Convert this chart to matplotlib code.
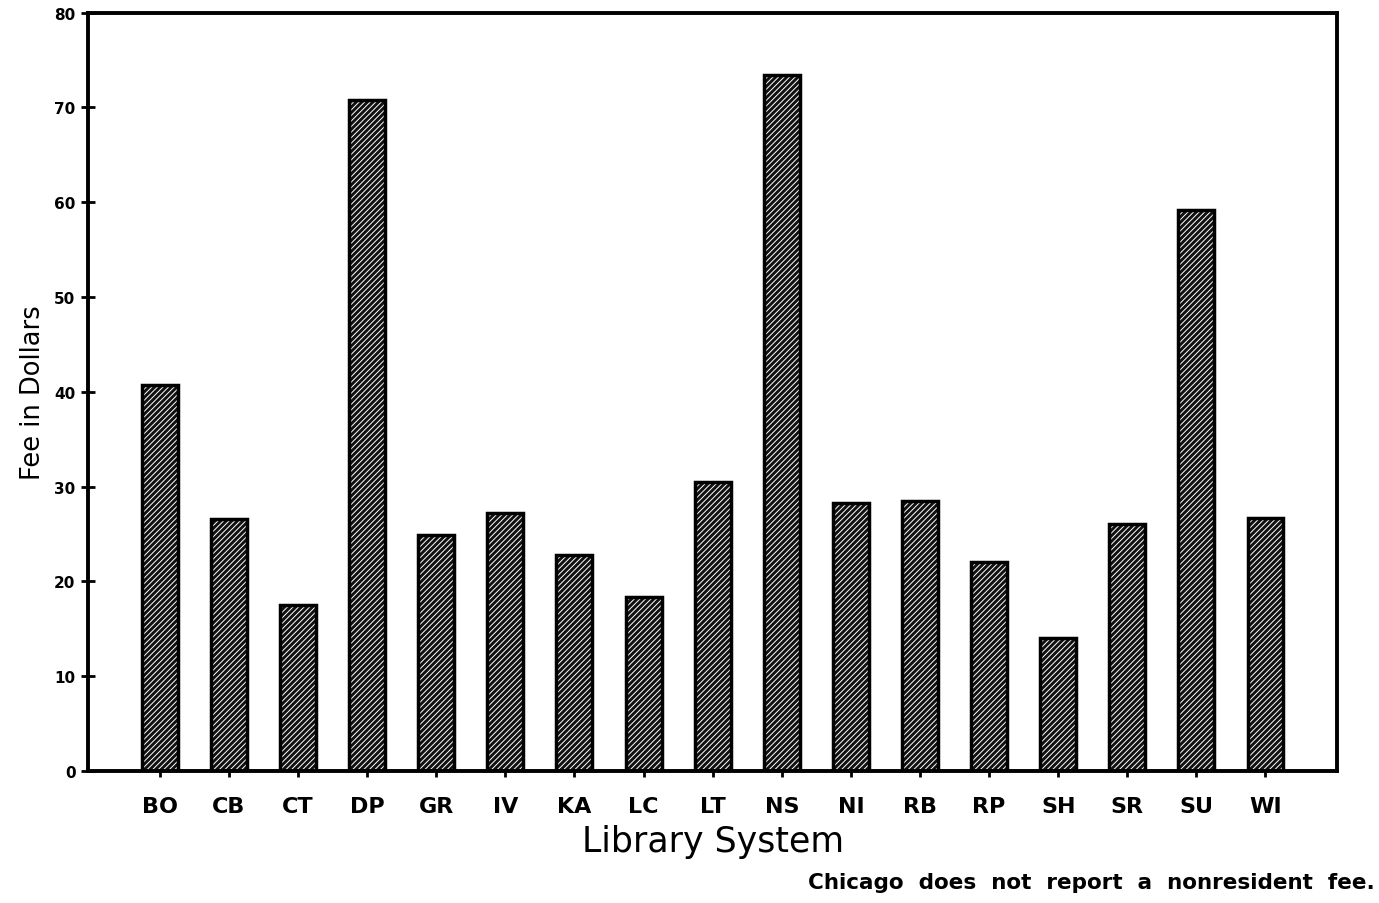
import numpy as np
import matplotlib.pyplot as plt

# nonresident fee by library system
systems = ["BO", "CB", "CT", "DP", "GR", "IV", "KA", "LC", "LT",
           "NS", "NI", "RB", "RP", "SH", "SR", "SU", "WI"]
fees = [40.7, 26.6, 17.5, 70.8, 24.9, 27.2, 22.8, 18.4, 30.5,
        73.4, 28.3, 28.5, 22.0, 14.0, 26.1, 59.2, 26.7]
yTicks = [0, 10, 20, 30, 40, 50, 60, 70, 80]

plt.rcParams['hatch.linewidth'] = 0.7

fig = plt.figure(figsize=(13.79, 9.04), dpi=100)
ax = fig.add_axes([0.0638, 0.146, 0.906, 0.839])

xPos = np.arange(len(systems))
barW = 0.52
# dark fill with white hatching, then a black outline on top
ax.bar(xPos, fees, width=barW, color="#111111", edgecolor="white",
       hatch="//////", linewidth=0, zorder=2)
ax.bar(xPos, fees, width=barW, fill=False, edgecolor="black",
       linewidth=2.5, zorder=3)

ax.set_xlim(-1.04, len(systems) - 1 + 1.04)
ax.set_ylim(0, 80)
ax.set_yticks(yTicks)
ax.set_yticklabels([str(t) for t in yTicks], fontsize=11, fontweight="bold")
ax.set_xticks(xPos)
ax.set_xticklabels(systems, fontsize=16, fontweight="bold")

for sp in ax.spines.values():
  sp.set_linewidth(2.8)
ax.tick_params(axis="y", direction="inout", length=10, width=2, pad=4)
ax.tick_params(axis="x", direction="out", length=4, width=2, pad=14)

ax.set_ylabel("Fee in Dollars", fontsize=18.5, labelpad=6)
ax.set_xlabel("Library System", fontsize=25, labelpad=6)

fig.text(0.997, 0.012, "Chicago  does  not  report  a  nonresident  fee.",
         ha="right", va="bottom", fontsize=15.5, fontweight="bold")

fig.savefig("out.png", dpi=100)
